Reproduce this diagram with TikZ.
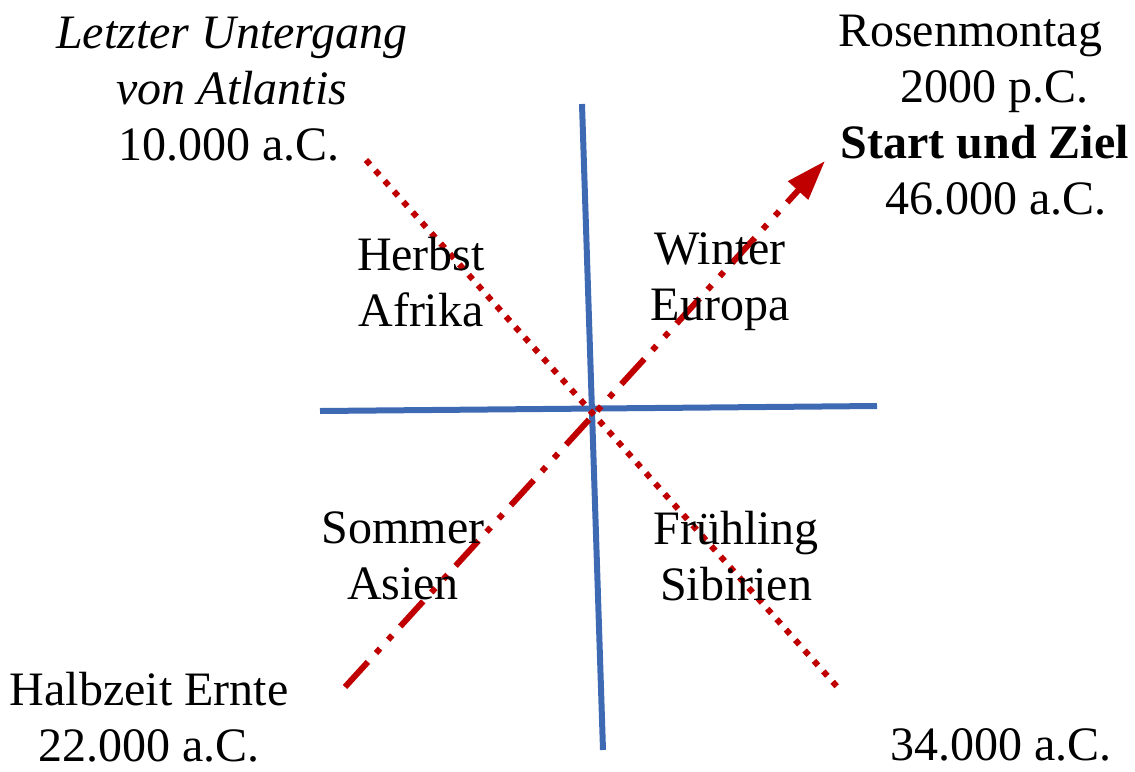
\documentclass[tikz,border=0pt]{standalone}
\usepackage{fontspec}
\setmainfont{Liberation Serif}
\usepackage{xcolor}
\usetikzlibrary{arrows.meta, positioning}
\definecolor{axisblue}{RGB}{62,106,180}
\definecolor{darkred}{RGB}{192,0,0}
\tikzset{axis line/.style={draw=axisblue,line width=3pt},
    dotted path/.style={draw=darkred,line width=3pt,dash pattern=on 3pt off 4pt},
    dashdot path/.style={draw=darkred,line width=3pt,
        dash pattern=on 17pt off 6pt on 3pt off 6pt on 3pt off 6pt},
    label text/.style={font=\fontsize{24}{28}\selectfont,align=center,inner sep=0pt}}

\begin{document}
\begin{tikzpicture}[x=0.5pt,y=-0.5pt]

% Fix the frame
\useasboundingbox (0,0) rectangle (1135,771);

% Ends of the two axes
\coordinate (north) at (582,104);
\coordinate (south) at (603,750);
\coordinate (west) at (320,411);
\coordinate (east) at (877,406);

% Ends of the two diagonals
\coordinate (atlantis) at (366,160);
\coordinate (autumnend) at (840,690);
\coordinate (halftime) at (345,687);
\coordinate (goal) at (825,161);

% Draw the axes
\draw[axis line] (west) -- (east);
\draw[axis line] (north) -- (south);

% Draw the diagonals
\draw[dotted path] (atlantis) -- (autumnend);
\draw[dashdot path, -{Triangle[length=20pt,width=13pt]}] (halftime) -- (goal);

% Corner labels
\node[label text] (lastfall) at (232,89) {\textit{Letzter Untergang}\\\textit{von Atlantis}\hspace*{13pt}\\10.000 a.C.\hspace*{3pt}};
\node[label text] (start) at (985,115) {Rosenmontag\hspace*{15pt}\\\hspace*{9pt}2000 p.C.\\\textbf{Start und Ziel}\\\hspace*{11pt}46.000 a.C.};
\node[label text] (harvest) at (149,717) {Halbzeit Ernte\\22.000 a.C.};
\node[label text, anchor=base] (late) at (1001,760) {34.000 a.C.};

% Quadrant labels
\node[label text] (autumn) at (421,282) {Herbst\\Afrika};
\node[label text] (winter) at (720,282) {Winter\\Europa};
\node[label text] (summer) at (403,556) {Sommer\\Asien};
\node[label text] (spring) at (736,556) {Frühling\\Sibirien};
\end{tikzpicture}
\end{document}
